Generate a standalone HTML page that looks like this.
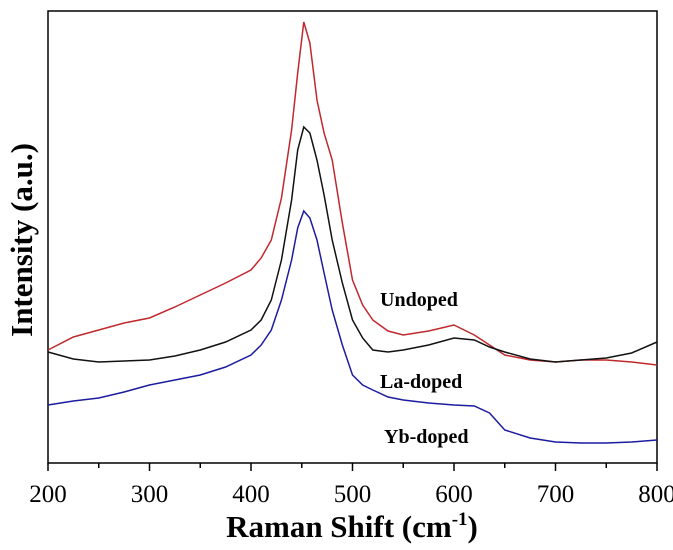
<!DOCTYPE html>
<html><head><meta charset="utf-8"><style>
body{margin:0;background:#fff}
svg{display:block;font-family:"Liberation Serif",serif}
</style></head><body>
<svg width="673" height="550">
<g id="plot"></g>
</svg>
<script>
const xs=[200,225,250,275,300,325,350,375,400,410,420,430,440,446,452,458,465,472,480,490,500,510,520,535,550,575,600,620,635,650,675,700,725,750,775,800];
const undoped=[113,126,133,140,145,156,168,180,193,205,223,265,333,390,441,420,363,330,303,240,183,158,143,132,128,132,138,128,118,108,103,101,103,103,101,98];
const laDoped=[111,104,101,102,103,107,113,121,133,143,163,203,263,313,336,330,303,268,223,180,143,125,113,111,113,118,125,123,116,111,104,101,103,105,110,121];
const ybDoped=[58,62,65,71,78,83,88,96,108,118,133,163,203,235,252,245,223,190,153,118,88,78,73,66,63,60,58,57,50,33,25,21,20,20,21,23];
const xTicks=[200,300,400,500,600,700,800];
const L=48,R=657,T=11,B=463;
const X=v=>L+(v-200)/600*(R-L);
const Y=v=>B-v;
const ns="http://www.w3.org/2000/svg";
const g=document.getElementById('plot');
function mk(t,a){const e=document.createElementNS(ns,t);for(const k in a)e.setAttribute(k,a[k]);g.appendChild(e);return e;}
const frame=mk('rect',{x:L,y:T,width:R-L,height:B-T,fill:'none',stroke:'#000','stroke-width':1.5});


for(let v=200;v<=800;v+=50){
 const t=mk('line',{x1:X(v),x2:X(v),y1:B,y2:B+(v%100==0?8:5),stroke:'#000','stroke-width':1.5});
 
 
}
xTicks.forEach(v=>{
 const t=mk('text',{x:X(v),y:502,'text-anchor':'middle','font-size':25});
 t.textContent=v;
 
 
});
const series=[[undoped,'#c0282d','undoped-line'],[laDoped,'#111','la-doped-line'],[ybDoped,'#1c1ca0','yb-doped-line']];
series.forEach(([d,c,n])=>{
 const p=mk('polyline',{points:xs.map((x,i)=>X(x)+','+Y(d[i])).join(' '),fill:'none',stroke:c,'stroke-width':1.5});
 
 
});
const labels=[['Undoped',380,306],['La-doped',380,388],['Yb-doped',384,443]];
labels.forEach(([s,x,y])=>{
 const t=mk('text',{x:x,y:y,'font-size':20,'font-weight':'bold'});
 t.textContent=s;
 
 
});
const xt=mk('text',{x:352,y:537,'text-anchor':'middle','font-size':31,'font-weight':'bold'});
xt.innerHTML='Raman Shift (cm<tspan dy="-12" font-size="19">-1</tspan><tspan dy="12">)</tspan>';


const yt=mk('text',{x:0,y:0,'text-anchor':'middle','font-size':31,'font-weight':'bold',transform:'translate(32,240) rotate(-90)'});
yt.textContent='Intensity (a.u.)';


</script>
</body></html>
